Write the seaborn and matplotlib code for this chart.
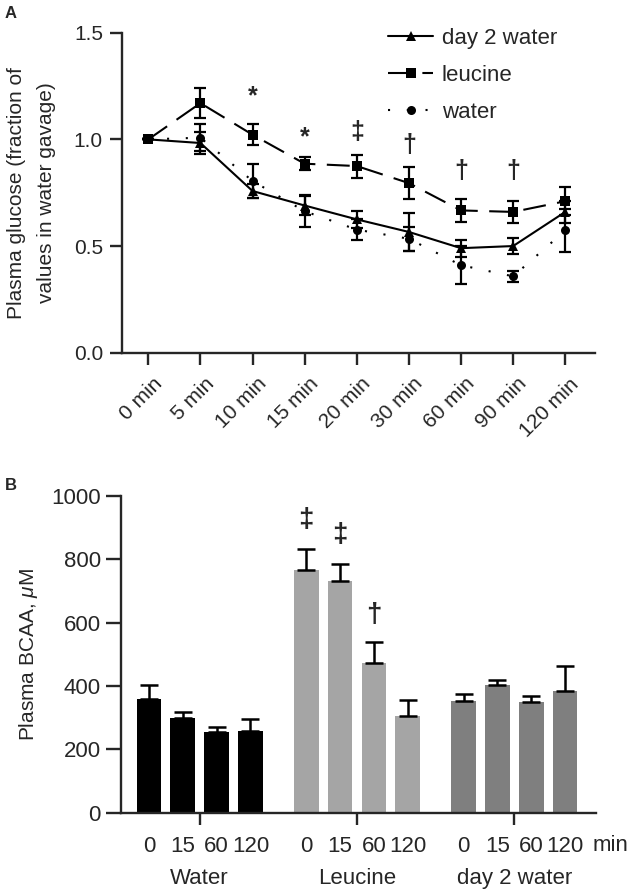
import numpy as np
import pandas as pd
import matplotlib
matplotlib.use("Agg")
import matplotlib.pyplot as plt
import matplotlib.transforms as mtransforms
from matplotlib.container import BarContainer
import seaborn as sns

# ---------------------------------------------------------------------------
# Panel A data: plasma glucose, fraction of water-gavage values
# ---------------------------------------------------------------------------
time_labels = ["0 min", "5 min", "10 min", "15 min", "20 min",
               "30 min", "60 min", "90 min", "120 min"]

day2_water_mean = [1.00, 0.983, 0.758, 0.690, 0.625, 0.566, 0.490, 0.500, 0.660]
day2_water_sem = [0.0, 0.05, 0.035, 0.045, 0.04, 0.09, 0.04, 0.036, 0.05]

leucine_mean = [1.00, 1.170, 1.022, 0.886, 0.875, 0.795, 0.667, 0.660, 0.710]
leucine_sem = [0.0, 0.072, 0.05, 0.03, 0.054, 0.074, 0.053, 0.053, 0.066]

water_mean = [1.00, 1.008, 0.805, 0.663, 0.577, 0.534, 0.410, 0.358, 0.573]
water_sem = [0.0, 0.062, 0.08, 0.075, 0.05, 0.055, 0.088, 0.027, 0.10]

# significance marks (time label, symbol, y position)
glucose_marks = [("10 min", "*", 1.20), ("15 min", "*", 1.01),
                 ("20 min", "‡", 1.035), ("30 min", "†", 0.975),
                 ("60 min", "†", 0.85), ("90 min", "†", 0.85)]

# ---------------------------------------------------------------------------
# Panel B data: plasma BCAA (uM)
# ---------------------------------------------------------------------------
bcaa_groups = ["Water", "Leucine", "day 2 water"]
bcaa_times = ["0", "15", "60", "120"]
bcaa_mean = {
    "Water": [358, 300, 255, 259],
    "Leucine": [768, 732, 473, 306],
    "day 2 water": [352, 403, 351, 385],
}
bcaa_sem = {
    "Water": [45, 17, 16, 36],
    "Leucine": [64, 52, 67, 50],
    "day 2 water": [23, 15, 17, 79],
}
bcaa_colors = ["#000000", "#a5a5a5", "#7f7f7f"]
bcaa_marks = [("Leucine", "0", "‡", 924), ("Leucine", "15", "‡", 877),
              ("Leucine", "60", "†", 624)]

# ---------------------------------------------------------------------------
# Styling
# ---------------------------------------------------------------------------
sns.set_style("ticks")
plt.rcParams["font.family"] = ["Liberation Sans", "DejaVu Sans"]
plt.rcParams["mathtext.fontset"] = "custom"
plt.rcParams["mathtext.it"] = "Liberation Sans:italic"
plt.rcParams["mathtext.rm"] = "Liberation Sans"
plt.rcParams["axes.linewidth"] = 1.7
plt.rcParams["xtick.major.width"] = 1.7
plt.rcParams["ytick.major.width"] = 1.7
plt.rcParams["xtick.major.size"] = 8.5
plt.rcParams["ytick.major.size"] = 8.5
FS = 15
FS_BIG = 16

fig = plt.figure(figsize=(6.31, 8.92), dpi=100)
ax_a = fig.add_axes([0.1929, 0.6046, 0.750, 0.3587])
ax_b = fig.add_axes([0.1918, 0.0889, 0.7528, 0.355])

# ---------------------------------------------------------------------------
# Panel A
# ---------------------------------------------------------------------------
series = {"day 2 water": (day2_water_mean, day2_water_sem),
          "leucine": (leucine_mean, leucine_sem),
          "water": (water_mean, water_sem)}
rows = []
for name, (m, s) in series.items():
    for t, v in zip(time_labels, m):
        rows.append({"time": t, "value": v, "group": name})
df_a = pd.DataFrame(rows)

sns.lineplot(data=df_a, x="time", y="value", style="group",
             style_order=["day 2 water", "leucine", "water"],
             markers={"day 2 water": "^", "leucine": "s", "water": "o"},
             dashes={"day 2 water": "", "leucine": (11, 5.5), "water": (1, 8)},
             color="black", linewidth=1.5, markersize=6.5, markeredgewidth=0,
             errorbar=None, ax=ax_a, sort=False)

xpos = np.arange(len(time_labels))
for name, (m, s) in series.items():
    ax_a.errorbar(xpos, m, yerr=s, fmt="none", ecolor="black",
                  elinewidth=1.6, capsize=4.5, capthick=1.6)

for t, sym, y in glucose_marks:
    ax_a.text(time_labels.index(t), y, sym, ha="center", va="center",
              fontsize=18, fontweight="bold")

ax_a.set_ylim(0, 1.5)
ax_a.set_xlim(-0.51, 8.57)
ax_a.set_yticks([0.0, 0.5, 1.0, 1.5])
ax_a.set_yticklabels(["0.0", "0.5", "1.0", "1.5"], fontsize=FS)
ax_a.tick_params(axis="y", pad=5)
ax_a.set_xticks(xpos)
ax_a.set_xticklabels(time_labels, fontsize=FS, rotation=45, ha="right",
                     va="top", rotation_mode="anchor")
ax_a.tick_params(axis="x", pad=7)
shift = mtransforms.ScaledTranslation(4 / 100, 0, fig.dpi_scale_trans)
for lbl in ax_a.get_xticklabels():
    lbl.set_transform(lbl.get_transform() + shift)
ax_a.set_xlabel("")
ax_a.set_ylabel("Plasma glucose (fraction of\nvalues in water gavage)",
                fontsize=FS, labelpad=13, linespacing=1.7)
sns.despine(ax=ax_a)

leg = ax_a.legend(loc="upper left", bbox_to_anchor=(0.54, 1.05),
                  frameon=False, fontsize=FS_BIG, handlelength=2.0,
                  handletextpad=0.4, labelspacing=0.72, borderpad=0)

# ---------------------------------------------------------------------------
# Panel B
# ---------------------------------------------------------------------------
rows = []
for g in bcaa_groups:
    for t, v in zip(bcaa_times, bcaa_mean[g]):
        rows.append({"group": g, "time": t, "value": v})
df_b = pd.DataFrame(rows)

sns.barplot(data=df_b, x="group", y="value", hue="time",
            order=bcaa_groups, hue_order=bcaa_times, errorbar=None,
            width=0.86, gap=0.27, legend=False, ax=ax_b)

bar_containers = [c for c in ax_b.containers if isinstance(c, BarContainer)]
minor_x = []
minor_lbl = []
for ti, cont in enumerate(bar_containers):
    for gi, bar in enumerate(cont.patches):
        bar.set_facecolor(bcaa_colors[gi])
        bar.set_edgecolor("none")
        cx = bar.get_x() + bar.get_width() / 2
        g = bcaa_groups[gi]
        ax_b.errorbar(cx, bar.get_height(), yerr=[[0], [bcaa_sem[g][ti]]],
                      fmt="none", ecolor="black", elinewidth=1.8,
                      capsize=6.5, capthick=1.8)
        minor_x.append(cx)
        minor_lbl.append(bcaa_times[ti])
        for mg, mt, sym, y in bcaa_marks:
            if mg == g and mt == bcaa_times[ti]:
                ax_b.text(cx, y, sym, ha="center", va="center",
                          fontsize=20, fontweight="bold")

ax_b.set_ylim(0, 1000)
ax_b.set_xlim(-0.5, 2.52)
ax_b.set_yticks([0, 200, 400, 600, 800, 1000])
ax_b.set_yticklabels(["0", "200", "400", "600", "800", "1000"], fontsize=FS_BIG)
ax_b.tick_params(axis="y", length=10.5, pad=4)
ax_b.set_xticks(range(len(bcaa_groups)))
ax_b.set_xticklabels(bcaa_groups, fontsize=FS_BIG)
ax_b.tick_params(axis="x", which="major", pad=31)
ax_b.set_xticks(minor_x, minor=True)
ax_b.set_xticklabels(minor_lbl, minor=True, fontsize=FS_BIG)
ax_b.tick_params(axis="x", which="minor", length=0, pad=16.5)
ax_b.text(0.993, -0.105, "min", transform=ax_b.transAxes, ha="left",
          va="center", fontsize=FS_BIG)
ax_b.set_xlabel("")
ax_b.set_ylabel(r"Plasma BCAA, $\mathit{\mu}$M", fontsize=FS, labelpad=8)
sns.despine(ax=ax_b)

fig.text(0.008, 0.985, "A", fontsize=12, fontweight="bold", va="center")
fig.text(0.008, 0.456, "B", fontsize=12, fontweight="bold", va="center")

fig.savefig("out.png", dpi=100)
